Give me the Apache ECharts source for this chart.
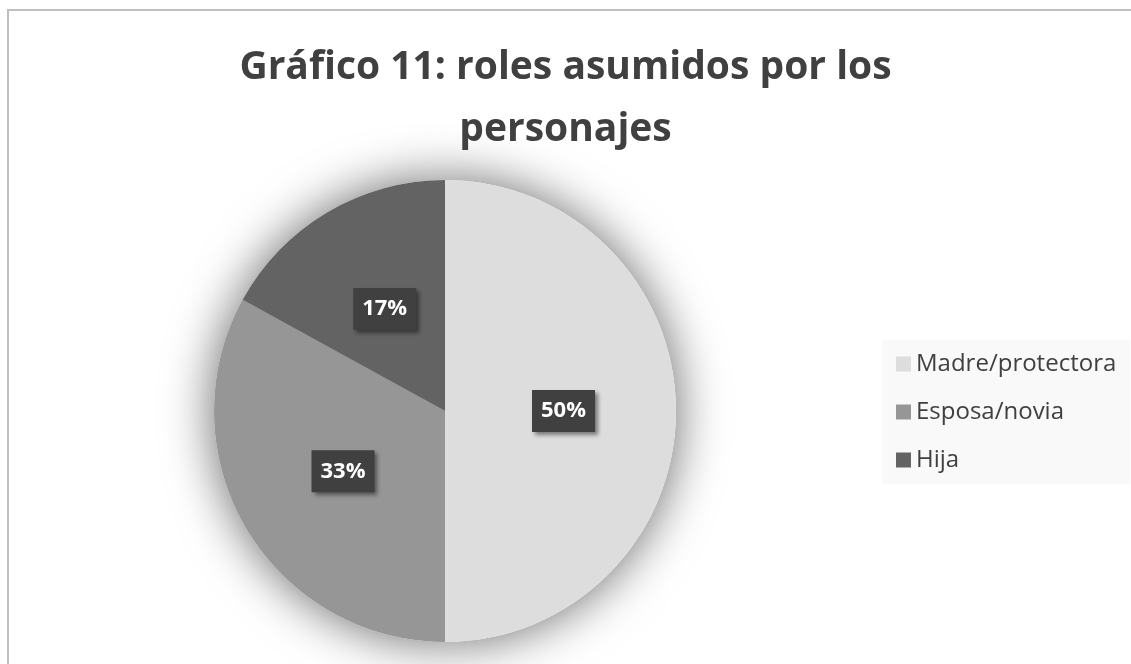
<!DOCTYPE html>
<html>
<head>
<meta charset="utf-8">
<script src="https://cdn.jsdelivr.net/npm/echarts@6/dist/echarts.min.js"></script>
<style>
  html, body { margin: 0; padding: 0; background: #fff; }
  #main { width: 1131px; height: 664px; }
</style>
</head>
<body>
<div id="main"></div>
<script>
// datos del gráfico
var categories = ["Madre/protectora", "Esposa/novia", "Hija"];
var values = [50, 33, 17];
var colors = ["#dddddd", "#969696", "#636363"];
var titleText = "Gráfico 11: roles asumidos por los\npersonajes";

var pieData = [];
var shadowData = [];
for (var i = 0; i < categories.length; i++) {
  pieData.push({ name: categories[i], value: values[i], itemStyle: { color: colors[i] } });
  shadowData.push({ name: categories[i], value: values[i] });
}

let options = {
  backgroundColor: "#ffffff",
  animation: false,
  title: {
    text: titleText,
    left: "center",
    top: 37,
    padding: 0,
    textStyle: {
      fontFamily: "Open Sans",
      fontSize: 39,
      fontWeight: "bold",
      color: "#404040",
      lineHeight: 62
    }
  },
  legend: {
    orient: "vertical",
    left: 882,
    top: 340,
    padding: [12, 14, 12, 14],
    backgroundColor: "#f9f9f9",
    itemWidth: 15,
    itemHeight: 15,
    itemGap: 24,
    icon: "rect",
    data: categories,
    textStyle: {
      fontFamily: "Open Sans",
      fontSize: 24,
      color: "#404040",
      lineHeight: 24
    }
  },
  graphic: [
    {
      type: "rect",
      shape: { x: 8, y: 10, width: 1200, height: 700 },
      style: { fill: "none", stroke: "#bfbfbf", lineWidth: 2 },
      silent: true
    }
  ],
  series: [
    {
      name: "roles",
      type: "pie",
      center: [445, 411],
      radius: 231,
      startAngle: 90,
      z: 2,
      itemStyle: { borderWidth: 0 },
      label: {
        show: true,
        position: "inside",
        formatter: "{d}%",
        fontFamily: "Open Sans",
        fontSize: 22,
        fontWeight: "bold",
        color: "#ffffff",
        backgroundColor: "#404040",
        padding: [11, 9, 9, 9],
        shadowColor: "rgba(0,0,0,0.45)",
        shadowBlur: 4,
        shadowOffsetX: 3,
        shadowOffsetY: 3
      },
      labelLine: { show: false },
      data: pieData
    },
    {
      // sombra del pastel
      name: "sombra",
      type: "pie",
      center: [445, 411],
      radius: 231,
      startAngle: 90,
      silent: true,
      z: 1,
      label: { show: false },
      labelLine: { show: false },
      legendHoverLink: false,
      itemStyle: {
        color: "#ffffff",
        shadowBlur: 50,
        shadowColor: "rgba(0,0,0,0.6)"
      },
      data: shadowData
    }
  ]
};

let chart = echarts.init(document.querySelector("#main"));
chart.setOption(options);
</script>
</body>
</html>
